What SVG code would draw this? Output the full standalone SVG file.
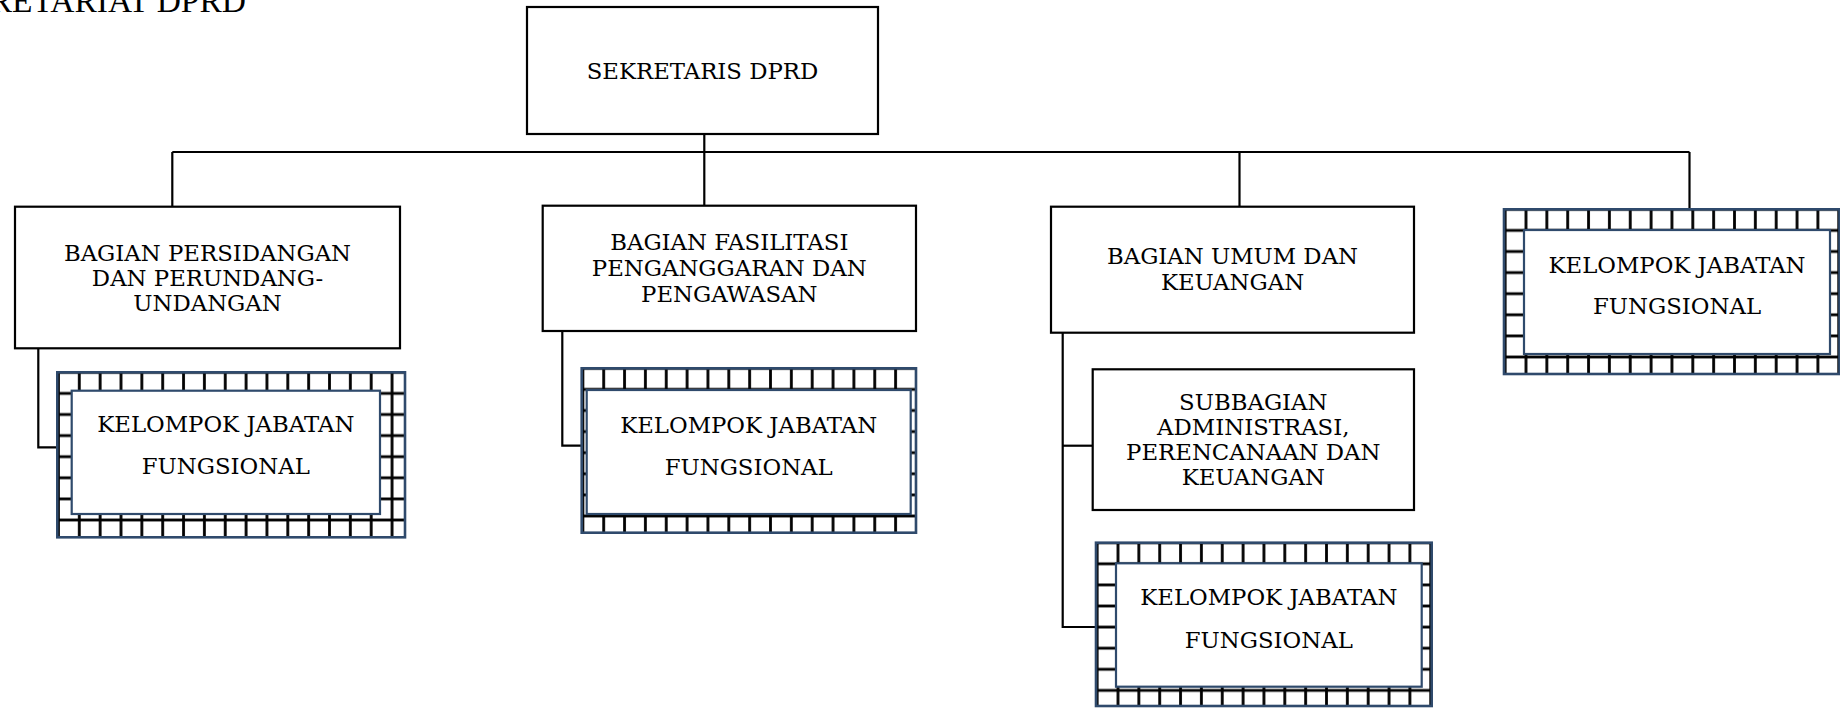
<svg xmlns="http://www.w3.org/2000/svg" width="1840" height="709" viewBox="0 0 1840 709">
<style>
.box{fill:#fff;stroke:#000;stroke-width:2.2}
.t{font-family:"DejaVu Serif","Liberation Serif",serif;font-size:22.8px;fill:#000;text-anchor:middle}
.conn{fill:none;stroke:#000;stroke-width:2.2}
.outer{fill:url(#grid);stroke:#2f4a6c;stroke-width:2.6}
.inner{fill:#fff;stroke:#2f4a6c;stroke-width:2.2}
.title{font-family:"Liberation Serif",serif;font-size:33.5px;fill:#000;text-anchor:end}
</style>
<defs>
<pattern id="grid" patternUnits="userSpaceOnUse" x="11.575" y="-10.55" width="20.85" height="21.1">
<rect width="20.85" height="21.1" fill="#fff"/>
<rect x="9.025" y="0" width="2.8" height="21.1" fill="#000"/>
<rect x="0" y="9.15" width="20.85" height="2.8" fill="#000"/>
</pattern>
</defs>
<text class="title" x="246" y="12">SEKRETARIAT DPRD</text>
<g id="connectors">
<path class="conn" d="M704.3,134 V206"/>
<path class="conn" d="M172.3,152 H1689.5"/>
<path class="conn" d="M172.3,152 V207"/>
<path class="conn" d="M1239.5,152 V207"/>
<path class="conn" d="M1689.5,152 V209"/>
<path class="conn" d="M38.3,348 V447.3 H57.3"/>
<path class="conn" d="M562.3,331 V445.7 H581.7"/>
<path class="conn" d="M1062.7,332.7 V627 H1096"/>
<path class="conn" d="M1062.7,445.7 H1092.7"/>
</g>
<g id="sekretaris">
<rect class="box" x="527" y="7" width="351" height="127"/>
<text class="t" x="702.5" y="78.5">SEKRETARIS DPRD</text>
</g>
<g id="bagian-persidangan">
<rect class="box" x="15" y="206.7" width="385" height="141.6"/>
<text class="t" x="207.5" y="261">BAGIAN PERSIDANGAN</text>
<text class="t" x="207.5" y="286">DAN PERUNDANG-</text>
<text class="t" x="207.5" y="310.5">UNDANGAN</text>
</g>
<g id="bagian-fasilitasi">
<rect class="box" x="542.7" y="205.7" width="373.3" height="125.3"/>
<text class="t" x="729.3" y="250">BAGIAN FASILITASI</text>
<text class="t" x="729.3" y="276">PENGANGGARAN DAN</text>
<text class="t" x="729.3" y="301.5">PENGAWASAN</text>
</g>
<g id="bagian-umum">
<rect class="box" x="1051" y="206.7" width="363" height="126"/>
<text class="t" x="1232.5" y="264">BAGIAN UMUM DAN</text>
<text class="t" x="1232.5" y="290">KEUANGAN</text>
</g>
<g id="subbagian">
<rect class="box" x="1092.7" y="369.3" width="321.3" height="140.7"/>
<text class="t" x="1253.3" y="410">SUBBAGIAN</text>
<text class="t" x="1253.3" y="435">ADMINISTRASI,</text>
<text class="t" x="1253.3" y="460">PERENCANAAN DAN</text>
<text class="t" x="1253.3" y="485">KEUANGAN</text>
</g>
<g id="kjf-1" transform="translate(57.3,372.3)">
<rect class="outer" x="0" y="0" width="347.7" height="165"/>
<rect class="inner" x="14.4" y="18.4" width="308.3" height="123.3"/>
<text class="t" x="168.5" y="59.4">KELOMPOK JABATAN</text>
<text class="t" x="168.5" y="101.7">FUNGSIONAL</text>
</g>
<g id="kjf-2" transform="translate(581.7,368.3)">
<rect class="outer" x="0" y="0" width="334.3" height="164.4"/>
<rect class="inner" x="5" y="21.7" width="324" height="124"/>
<text class="t" x="167" y="64.4">KELOMPOK JABATAN</text>
<text class="t" x="167" y="106.7">FUNGSIONAL</text>
</g>
<g id="kjf-3" transform="translate(1096,542.7)">
<rect class="outer" x="0" y="0" width="335.7" height="163.3"/>
<rect class="inner" x="20" y="20.6" width="305.7" height="123.4"/>
<text class="t" x="172.8" y="62.3">KELOMPOK JABATAN</text>
<text class="t" x="172.8" y="105.6">FUNGSIONAL</text>
</g>
<g id="kjf-4" transform="translate(1504,209.3)">
<rect class="outer" x="0" y="0" width="335.5" height="164.7"/>
<rect class="inner" x="20" y="20.7" width="306" height="124"/>
<text class="t" x="173" y="63.4">KELOMPOK JABATAN</text>
<text class="t" x="173" y="104.7">FUNGSIONAL</text>
</g>
</svg>
